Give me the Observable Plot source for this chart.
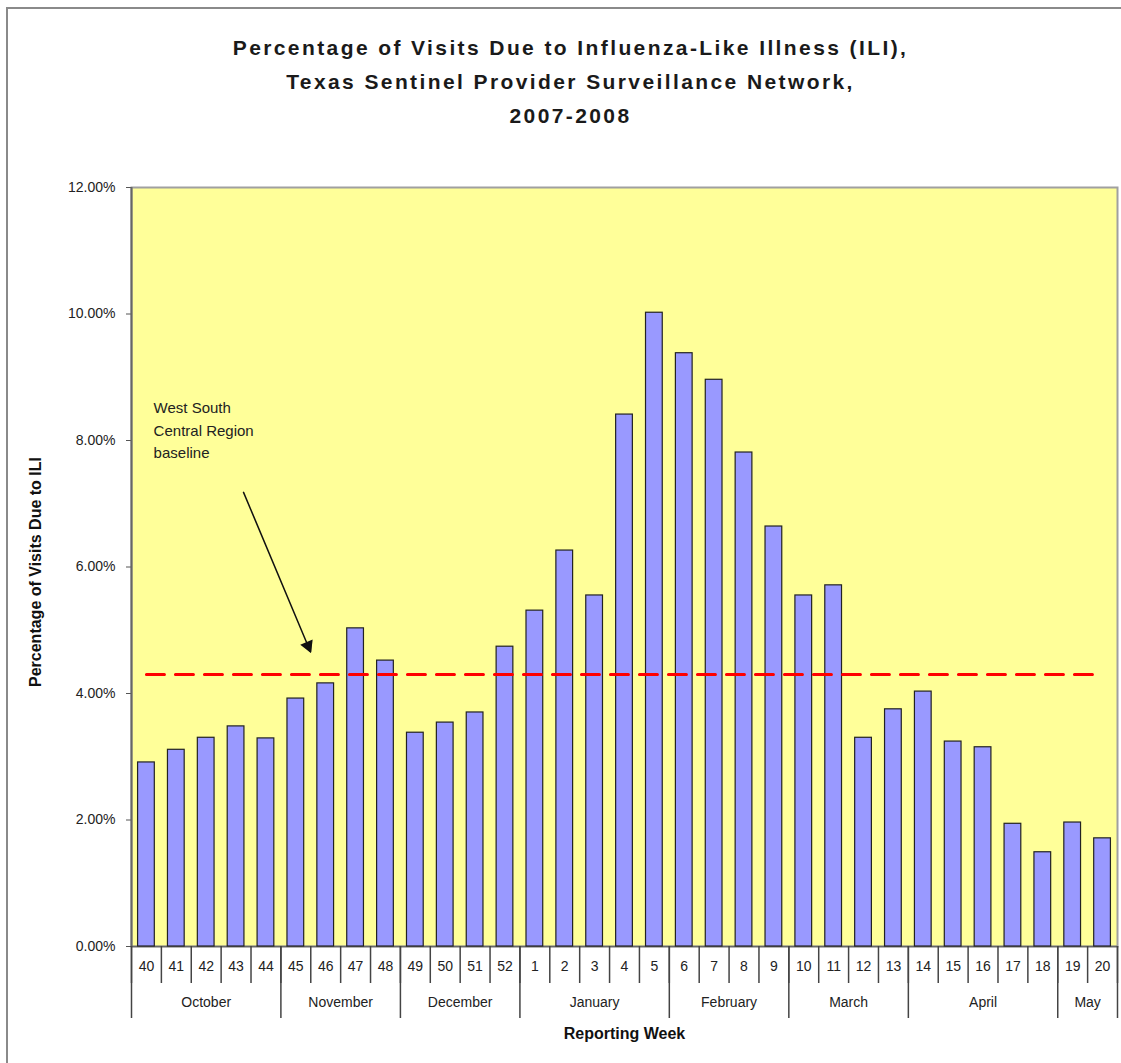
<!DOCTYPE html>
<html>
<head>
<meta charset="utf-8">
<script src="https://cdn.jsdelivr.net/npm/d3@7"></script>
<script src="https://cdn.jsdelivr.net/npm/@observablehq/plot@0.6"></script>
<style>
  html, body { margin: 0; padding: 0; background: #fff; overflow: hidden; }
  #wrap { position: relative; width: 1121px; height: 1063px; }
  #border { position: absolute; left: 6px; top: 7px; width: 2000px; height: 2000px; border: 2px solid #8a8a8a; box-sizing: border-box; }
  #title { position: absolute; left: 20px; top: 0; width: 1101px; height: 150px; box-sizing: border-box; padding-top: 31px;
    text-align: center; font-family: "Liberation Sans", Arial, sans-serif; font-weight: bold; font-size: 21px; line-height: 34px; color: #1a1a1a; letter-spacing: 2.4px; }
  #chart { position: absolute; left: 0; top: 150px; }
</style>
</head>
<body>
<div id="wrap">
  <div id="border"></div>
  <div id="title">Percentage of Visits Due to Influenza-Like Illness (ILI),<br>Texas Sentinel Provider Surveillance Network,<br>2007-2008</div>
  <div id="chart"></div>
</div>
<script>
const weeks = ["40","41","42","43","44","45","46","47","48","49","50","51","52","1","2","3","4","5","6","7","8","9","10","11","12","13","14","15","16","17","18","19","20"];
const iliPercent = [2.91,3.11,3.30,3.48,3.29,3.92,4.16,5.03,4.52,3.38,3.54,3.70,4.74,5.31,6.26,5.55,8.41,10.02,9.38,8.96,7.81,6.64,5.55,5.71,3.30,3.75,4.03,3.24,3.15,1.94,1.49,1.96,1.71];
const months = ["October","November","December","January","February","March","April","May"];
const monthWeekCounts = [5,4,4,5,4,4,5,2];
const baselinePercent = 4.30;
const yTicks = [0,2,4,6,8,10,12];
const annotationText = "West South\nCentral Region\nbaseline";
const annotationPos = {x: 0.74, y: 8.68};
const arrowFrom = {x: 3.75, y: 7.18};
const arrowTo = {x: 5.99, y: 4.66};
const xTitle = "Reporting Week";
const yTitle = "Percentage of Visits Due to ILI";

const data = weeks.map((w, i) => ({week: w, i, value: iliPercent[i]}));
const n = weeks.length;

let acc = 0;
const monthSpans = months.map((m, k) => {
  const s = acc; acc += monthWeekCounts[k];
  return {month: m, start: s, end: acc, mid: (s + acc) / 2};
});
const weekBounds = d3.range(n + 1);
const monthBounds = [0, ...monthSpans.map(d => d.end)];

const font = "Liberation Sans, Arial, sans-serif";

const chart = Plot.plot({
  width: 1121,
  height: 913,
  marginLeft: 131,
  marginRight: 4,
  marginTop: 37,
  marginBottom: 117,
  style: {fontFamily: font, fontSize: "14px", color: "#222", background: "transparent"},
  x: {domain: [0, n], axis: null},
  y: {domain: [0, 12], axis: null},
  marks: [
    Plot.frame({fill: "#FFFF99", stroke: "#a0a0a0", strokeWidth: 2}),
    Plot.axisY({ticks: yTicks, tickFormat: d => d.toFixed(2) + "%", tickSize: 5, tickPadding: 11, label: null, fontSize: 14, letterSpacing: 1.3, stroke: "#555", fill: "#222"}),
    Plot.ruleX([0], {stroke: "#666", strokeWidth: 2}),
    Plot.ruleY([0], {stroke: "#666", strokeWidth: 1.5}),
    Plot.rectY(data, {x1: d => d.i + 0.22, x2: d => d.i + 0.78, y: "value", fill: "#9999FF", stroke: "#222", strokeWidth: 1.2}),
    Plot.lineY(data, {x: d => d.i + 0.5, y: () => baselinePercent, stroke: "#FF0000", strokeWidth: 3, strokeDasharray: "18,11"}),
    // week separators & labels
    Plot.ruleX(weekBounds, {x: d => d, y1: () => 0, y2: () => 0, insetBottom: -37, stroke: "#444", strokeWidth: 1.5}),
    Plot.text(data, {x: d => d.i + 0.5, frameAnchor: "bottom", dy: 24, text: "week", fontSize: 14, letterSpacing: 0.5, fill: "#222"}),
    // month separators & labels
    Plot.ruleX(monthBounds, {x: d => d, y1: () => 0, y2: () => 0, insetBottom: -72, stroke: "#444", strokeWidth: 1.5}),
    Plot.text(monthSpans, {x: "mid", frameAnchor: "bottom", dy: 60, text: "month", fontSize: 14, fill: "#222", letterSpacing: 1.5}),
    // axis titles
    Plot.text([xTitle], {frameAnchor: "bottom", dy: 92, text: d => d, fontWeight: "bold", fontSize: 16, letterSpacing: 1.2, fill: "#111"}),
    Plot.text([yTitle], {frameAnchor: "left", dx: -96, dy: 5, rotate: -90, textAnchor: "middle", text: d => d, fontWeight: "bold", fontSize: 16, letterSpacing: 0.6, fill: "#111"}),
    // annotation
    Plot.text([annotationText], {x: () => annotationPos.x, y: () => annotationPos.y, text: d => d, textAnchor: "start", lineAnchor: "top", lineHeight: 1.5, fontSize: 15, letterSpacing: 0.8, fill: "#222"}),
    Plot.arrow([0], {x1: () => arrowFrom.x, y1: () => arrowFrom.y, x2: () => arrowTo.x, y2: () => arrowTo.y, stroke: "#111", strokeWidth: 1.5, headLength: 10, headAngle: 50}),
    Plot.dot([0], {x: () => arrowTo.x, y: () => arrowTo.y, dx: -2.5, dy: -6, symbol: "triangle", r: 5, rotate: 157, fill: "#111", stroke: "none"})
  ]
});
document.getElementById("chart").appendChild(chart);
</script>
</body>
</html>
